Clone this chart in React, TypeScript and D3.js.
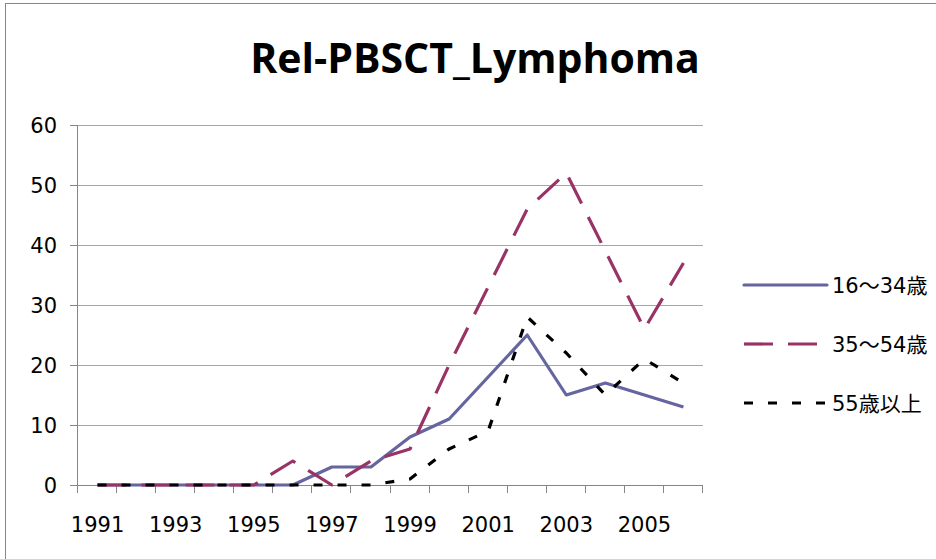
import React from "react";
import * as d3 from "d3";

const years = [1991,1992,1993,1994,1995,1996,1997,1998,1999,2000,2001,2002,2003,2004,2005,2006];
const yTicks = [0,10,20,30,40,50,60];
const xLabels = [1991,1993,1995,1997,1999,2001,2003,2005];
const age16to34 = [0,0,0,0,0,0,3,3,8,11,18,25,15,17,15,13];
const age35to54 = [0,0,0,0,0,4,0,4,6,20,33,46,52,39,26,37];
const age55plus = [0,0,0,0,0,0,0,0,1,6,9,28,22,15,21,17];
const seriesNames = ["16～34歳","35～54歳","55歳以上"];
const title = "Rel-PBSCT_Lymphoma";

const W = 936, H = 559;
const left = 78, right = 703, top = 125, bottom = 485;

export default function App() {
  const x = d3.scaleBand<number>().domain(years).range([left, right]);
  const y = d3.scaleLinear().domain([0, 60]).range([bottom, top]);
  const cx = (yr: number) => (x(yr) as number) + x.bandwidth() / 2;
  const line = d3.line<number>().x((_, i) => cx(years[i])).y(d => y(d));
  const series = [
    { name: seriesNames[0], data: age16to34, color: "#65659f", dash: "none" },
    { name: seriesNames[1], data: age35to54, color: "#993366", dash: "29 15" },
    { name: seriesNames[2], data: age55plus, color: "#000000", dash: "9 15" },
  ];
  const boundaries = years.map(yr => x(yr) as number).concat([right]);
  const font = "'DejaVu Sans', 'Noto Sans CJK JP', sans-serif";
  return (
    <svg width={W} height={H} style={{ position: "absolute", left: 0, top: 0, background: "#fff" }}>
      <rect x={5.5} y={3.5} width={1000} height={1000} fill="#fff" stroke="#868686" strokeWidth={1} />
      <text x={475} y={73} textAnchor="middle" fontFamily="'Open Sans', sans-serif" fontWeight="bold" fontSize={41} fill="#000">{title}</text>
      {yTicks.map(t => (
        <g key={t}>
          {t > 0 && <line x1={left} x2={right} y1={y(t) + 0.5} y2={y(t) + 0.5} stroke="#a6a6a6" strokeWidth={1} />}
          <line x1={70} x2={left} y1={y(t) + 0.5} y2={y(t) + 0.5} stroke="#868686" />
          <text x={57} y={y(t)} dy="0.36em" textAnchor="end" fontFamily={font} fontSize={21} fill="#000">{t}</text>
        </g>
      ))}
      <line x1={left - 0.5} x2={left - 0.5} y1={top} y2={bottom + 7} stroke="#868686" />
      <line x1={left - 8} x2={right} y1={bottom + 0.5} y2={bottom + 0.5} stroke="#868686" />
      {boundaries.map((b, i) => (
        <line key={i} x1={Math.round(b) - 0.5} x2={Math.round(b) - 0.5} y1={bottom} y2={bottom + 8} stroke="#868686" />
      ))}
      {xLabels.map(yr => (
        <text key={yr} x={cx(yr)} y={532} textAnchor="middle" fontFamily={font} fontSize={21} fill="#000">{yr}</text>
      ))}
      {series.map(s => (
        <path key={s.name} d={line(s.data) as string} fill="none" stroke={s.color} strokeWidth={3.2}
          strokeDasharray={s.dash} strokeLinejoin="round" />
      ))}
      {series.map((s, i) => (
        <g key={s.name}>
          <line x1={744} x2={827} y1={285 + i * 59} y2={285 + i * 59} stroke={s.color} strokeWidth={3.2}
            strokeDasharray={s.dash} strokeLinecap={s.dash === "none" ? "round" : "butt"} />
          <text x={832} y={285 + i * 59} dy="0.36em" fontFamily={font} fontSize={21} fill="#000">{s.name}</text>
        </g>
      ))}
    </svg>
  );
}
